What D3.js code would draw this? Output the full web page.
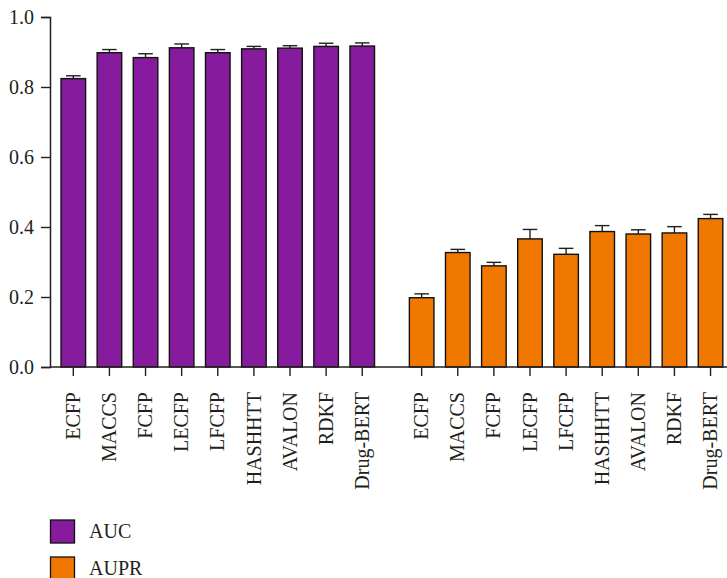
<!DOCTYPE html>
<html><head><meta charset="utf-8">
<script src="https://cdn.jsdelivr.net/npm/d3@7"></script>
<style>body{margin:0;background:#fff}svg{display:block}text{font-family:"Times New Roman","Liberation Serif",serif;fill:#231f20}</style>
</head><body>
<script>
const categories = ["ECFP","MACCS","FCFP","LECFP","LFCFP","HASHHTT","AVALON","RDKF","Drug-BERT"];
const aucValues = [0.824,0.898,0.884,0.912,0.898,0.909,0.911,0.916,0.917];
const aucErrors = [0.008,0.009,0.011,0.011,0.009,0.007,0.007,0.009,0.009];
const auprValues = [0.198,0.327,0.289,0.366,0.322,0.387,0.380,0.383,0.424];
const auprErrors = [0.011,0.009,0.010,0.027,0.017,0.017,0.012,0.018,0.012];
const yTicks = [0.0,0.2,0.4,0.6,0.8,1.0];
const seriesNames = ["AUC","AUPR"];
const colors = ["#861b9e","#f07800"];

const W = 727, H = 578;
const svg = d3.select("body").append("svg").attr("width",W).attr("height",H);
const y = d3.scaleLinear().domain([0,1]).range([367,17]);
const xAuc = d3.scaleBand().domain(categories).range([55.25,380.3]).paddingInner(0.32).paddingOuter(0.16);
const xAupr = d3.scaleBand().domain(categories).range([403.6,728.6]).paddingInner(0.32).paddingOuter(0.16);

const groups = [
  {x:xAuc, vals:aucValues, errs:aucErrors, color:colors[0]},
  {x:xAupr, vals:auprValues, errs:auprErrors, color:colors[1]}
];

groups.forEach(g=>{
  const gg = svg.append("g");
  categories.forEach((c,i)=>{
    const bx = g.x(c), bw = g.x.bandwidth(), cx = bx+bw/2;
    const top = y(g.vals[i]), et = y(g.vals[i]+g.errs[i]);
    gg.append("line").attr("x1",cx).attr("x2",cx).attr("y1",top).attr("y2",et).attr("stroke","#231f20").attr("stroke-width",1.4);
    gg.append("line").attr("x1",cx-7.3).attr("x2",cx+7.3).attr("y1",et).attr("y2",et).attr("stroke","#231f20").attr("stroke-width",1.4);
    gg.append("rect").attr("x",bx).attr("y",top).attr("width",bw).attr("height",y(0)-top)
      .attr("fill",g.color).attr("stroke","#111").attr("stroke-width",1.4);
  });
  const ax = svg.append("g").attr("transform",`translate(0,${y(0)})`);
  categories.forEach(c=>{
    const cx = g.x(c)+g.x.bandwidth()/2;
    ax.append("line").attr("x1",cx).attr("x2",cx).attr("y1",0).attr("y2",9).attr("stroke","#231f20").attr("stroke-width",1.4);
    ax.append("text").attr("transform",`translate(${cx},25) rotate(-90)`)
      .attr("text-anchor","end").attr("dy","0.33em").style("font-size","20px").text(c);
  });
});

svg.append("line").attr("x1",50).attr("x2",W).attr("y1",y(0)).attr("y2",y(0)).attr("stroke","#231f20").attr("stroke-width",1.5);

const yAxis = d3.axisLeft(y).tickValues(yTicks).tickFormat(d3.format(".1f")).tickSizeOuter(0).tickSize(9).tickPadding(7);
const ya = svg.append("g").attr("transform","translate(50,0)").call(yAxis);
ya.select(".domain").attr("stroke","#231f20").attr("stroke-width",1.5);
ya.selectAll(".tick line").attr("stroke","#231f20").attr("stroke-width",1.4);
ya.selectAll(".tick text").style("font-size","20px").style("font-family","'Times New Roman','Liberation Serif',serif").attr("fill","#231f20");

seriesNames.forEach((s,i)=>{
  const ly = 520 + i*37;
  svg.append("rect").attr("x",50.5).attr("y",ly).attr("width",24).attr("height",23)
    .attr("fill",colors[i]).attr("stroke","#111").attr("stroke-width",1.3);
  svg.append("text").attr("x",89).attr("y",ly+17.5).style("font-size","20px").text(s);
});
</script>
</body></html>
